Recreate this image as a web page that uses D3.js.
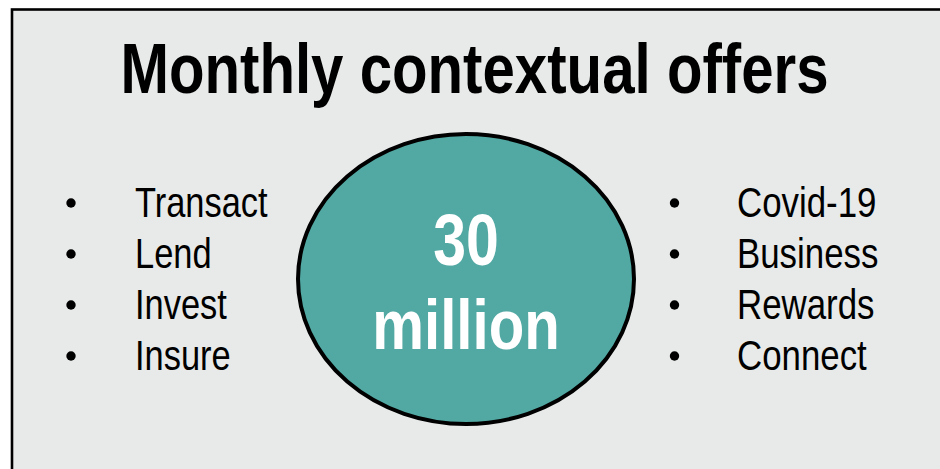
<!DOCTYPE html>
<html>
<head>
<meta charset="utf-8">
<script src="https://cdn.jsdelivr.net/npm/d3@7"></script>
<style>
  html, body { margin: 0; padding: 0; background: #ffffff; }
  svg { display: block; }
</style>
</head>
<body>
<svg id="chart" width="940" height="469"></svg>
<script>
// Content of the card
const title = "Monthly contextual offers";
const headlineValue = [30];
const headlineUnit = ["million"];
const leftItems = ["Transact", "Lend", "Invest", "Insure"];
const rightItems = ["Covid-19", "Business", "Rewards", "Connect"];

const W = 940, H = 469;
const svg = d3.select("#chart");
const FONT = "'Liberation Sans', Arial, sans-serif";
const NARROW = 0.82; // horizontal squeeze for a narrow sans look

// Card background with a dark frame running off the right and bottom
svg.append("rect")
  .attr("x", 12).attr("y", 9.5)
  .attr("width", W + 20).attr("height", H + 20)
  .attr("fill", "#e8eae9")
  .attr("stroke", "#000").attr("stroke-width", 2.6);

// helper: narrow text centred or left-anchored at (x, y)
function narrowText(g, x, y, txt, size, weight, fill, anchor, squeeze) {
  return g.append("text")
    .attr("transform", `translate(${x},${y}) scale(${squeeze || NARROW},1)`)
    .attr("text-anchor", anchor)
    .attr("font-family", FONT)
    .attr("font-size", size)
    .attr("font-weight", weight)
    .attr("fill", fill)
    .text(txt);
}

// Title
narrowText(svg, 474.5, 93, title, 71, "bold", "#000", "middle");

// Row positions shared by both lists
const rowY = d3.scalePoint()
  .domain(d3.range(leftItems.length))
  .range([217, 370]);

function bulletList(items, bulletX, textX, squeeze) {
  const g = svg.append("g");
  items.forEach((d, i) => {
    g.append("circle")
      .attr("cx", bulletX).attr("cy", rowY(i) - 14)
      .attr("r", 4.7).attr("fill", "#000");
    narrowText(g, textX, rowY(i), d, 42, "normal", "#000", "start", squeeze);
  });
}
bulletList(leftItems, 71, 135, 0.82);
bulletList(rightItems, 674.5, 737, 0.83);

// Central ellipse with the headline figure
const cx = 466, cy = 279;
svg.append("ellipse")
  .attr("cx", cx).attr("cy", cy)
  .attr("rx", 168).attr("ry", 145)
  .attr("fill", "#52a8a2")
  .attr("stroke", "#000").attr("stroke-width", 4);

narrowText(svg, cx, 265, d3.format("d")(headlineValue[0]), 72, "bold", "#fff", "middle");
narrowText(svg, cx, 349, headlineUnit[0], 71, "bold", "#fff", "middle");
</script>
</body>
</html>
